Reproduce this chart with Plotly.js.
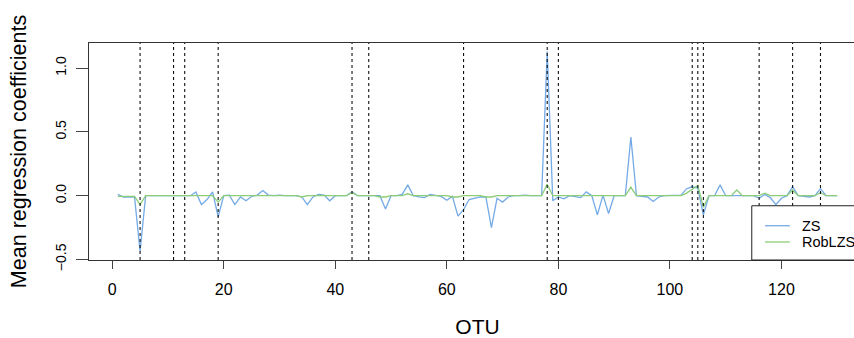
<!DOCTYPE html>
<html>
<head>
<meta charset="utf-8">
<script src="https://cdn.plot.ly/plotly-3.0.1.min.js"></script>
<style>
html,body{margin:0;padding:0;overflow:hidden;background:#fff;width:854px;height:338px;}
#chart{width:870px;height:338px;}
</style>
</head>
<body>
<div id="chart"></div>
<script>
// Mean regression coefficient per OTU (OTU index 1..130)
const zsValues = [
  0.01, -0.01, -0.01, -0.01, -0.435, 0, 0, 0, 0, 0,
  0, 0, 0, 0, 0.03, -0.07, -0.03, 0.03, -0.165, 0,
  0.005, -0.07, -0.01, -0.04, -0.005, 0.005, 0.04, 0.005, 0, 0.005,
  0, 0, 0, -0.01, -0.07, -0.01, 0.01, 0.005, -0.04, 0,
  0, 0, 0.03, 0, 0, 0, 0, 0, -0.105, 0,
  0, 0.01, 0.085, 0, -0.01, -0.015, 0.01, 0, -0.005, -0.035,
  -0.005, -0.16, -0.11, -0.03, -0.02, -0.01, -0.01, -0.25, -0.02, -0.05,
  -0.01, 0, 0, 0.005, 0, 0, 0, 1.13, -0.04, -0.01,
  -0.025, 0, -0.01, -0.015, 0.03, 0, -0.15, 0.005, -0.14, 0,
  0, 0, 0.46, 0, -0.005, -0.01, -0.045, -0.01, 0, 0,
  0, 0.005, 0.055, 0.07, 0.06, -0.15, 0, 0, 0.085, 0,
  0, 0, 0, 0, 0, -0.02, 0.01, -0.015, -0.07, -0.02,
  0, 0.07, 0, -0.005, -0.01, 0, 0.055, 0, 0, 0
];
const robLZSValues = [
  -0.005, -0.005, -0.005, -0.005, -0.07, 0, 0, 0, 0, 0,
  0, 0, 0, 0, 0, 0, 0, 0, -0.05, 0,
  0, 0, 0, 0, 0, 0, 0, 0, 0, 0,
  0, 0, 0, -0.01, 0, 0, 0, 0, 0, 0,
  0, 0, 0.025, 0, 0, 0, 0, -0.01, -0.01, 0,
  0, 0, 0.015, 0, 0, 0, 0, 0, 0, 0,
  -0.01, -0.01, 0, 0, 0, 0, -0.01, -0.01, 0, 0,
  0, 0, 0, 0, 0, 0, 0, 0.09, 0, 0,
  0, 0, 0, 0, 0, 0, 0, 0, 0, 0,
  0, 0, 0.066, 0, 0, 0, 0, 0, 0, 0,
  0, 0, 0.02, 0.05, 0.08, -0.09, 0, 0, 0, 0,
  0, 0.045, 0, 0, 0, 0, 0.02, 0, 0, 0,
  0, 0.045, 0, 0, 0, 0, 0.025, 0, 0, 0
];
// OTUs marked with dashed vertical lines
const selectedOTUs = [5, 11, 13, 19, 43, 46, 63, 78, 80, 104, 105, 106, 116, 122, 127];
const seriesNames = ["ZS", "RobLZS"];
const xTickVals = [0, 20, 40, 60, 80, 100, 120];
const yTickVals = [-0.5, 0, 0.5, 1.0];

const otu = zsValues.map((_, i) => i + 1);
const blue = "#74aae6";
const green = "#8ccd78";
const font = "Liberation Sans, Arial, Helvetica, sans-serif";

const traces = [
  {x: otu, y: zsValues, type: "scatter", mode: "lines", name: seriesNames[0],
   line: {color: blue, width: 1.3}, showlegend: false},
  {x: otu, y: robLZSValues, type: "scatter", mode: "lines", name: seriesNames[1],
   line: {color: green, width: 1.3}, showlegend: false}
];

const shapes = selectedOTUs.map(v => ({
  type: "line", xref: "x", yref: "paper", x0: v, x1: v, y0: 0, y1: 1,
  line: {color: "#111", width: 1.1, dash: "3px,3px"}, layer: "above"
}));
// legend box
shapes.push({type: "rect", xref: "paper", yref: "paper", x0: 0.853, x1: 1.3, y0: 0, y1: 0.25,
  line: {color: "#222", width: 1}, fillcolor: "#fff", layer: "above"});
shapes.push({type: "line", xref: "paper", yref: "paper", x0: 0.870, x1: 0.902, y0: 0.158, y1: 0.158,
  line: {color: blue, width: 1.3}, layer: "above"});
shapes.push({type: "line", xref: "paper", yref: "paper", x0: 0.870, x1: 0.902, y0: 0.083, y1: 0.083,
  line: {color: green, width: 1.3}, layer: "above"});

const annotations = [
  {xref: "paper", yref: "paper", x: 0.915, y: 0.158, xanchor: "left", yanchor: "middle",
   text: seriesNames[0], showarrow: false, font: {family: font, size: 14.5, color: "#000"}},
  {xref: "paper", yref: "paper", x: 0.915, y: 0.083, xanchor: "left", yanchor: "middle",
   text: seriesNames[1], showarrow: false, font: {family: font, size: 14.5, color: "#000"}}
];

const layout = {
  width: 870, height: 338,
  margin: {l: 89, r: 4, t: 43, b: 78},
  paper_bgcolor: "#fff", plot_bgcolor: "#fff",
  font: {family: font, color: "#000"},
  showlegend: false,
  xaxis: {
    range: [-4.16, 135.16], tickvals: xTickVals, ticks: "outside", ticklen: 8, tickcolor: "#444",
    ticklabelstandoff: 7,
    showline: true, linecolor: "#333", linewidth: 1, mirror: true, showgrid: false, zeroline: false,
    tickfont: {size: 16, family: font}, automargin: false,
    title: {text: "OTU", font: {size: 21, family: font}, standoff: 22}
  },
  yaxis: {
    range: [-0.504, 1.197], tickvals: yTickVals, tickformat: ".1f", ticks: "outside", ticklen: 12,
    tickcolor: "#444", tickangle: -90, ticklabelstandoff: 4,
    showline: true, linecolor: "#333", linewidth: 1, mirror: true, showgrid: false, zeroline: false,
    tickfont: {size: 14, family: font}, automargin: false,
    title: {text: "Mean regression coefficients", font: {size: 21.5, family: font}, standoff: 20}
  },
  shapes: shapes,
  annotations: annotations
};

Plotly.newPlot("chart", traces, layout, {staticPlot: true, displayModeBar: false});
</script>
</body>
</html>
